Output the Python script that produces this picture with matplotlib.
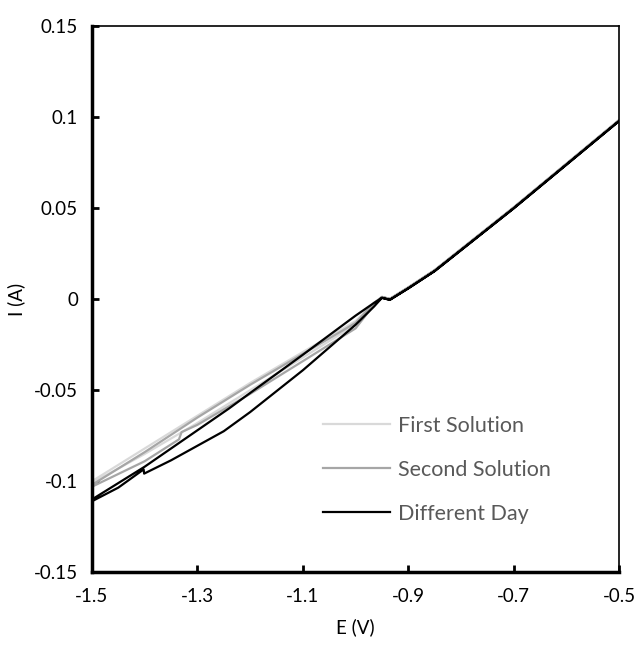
import matplotlib
matplotlib.use("Agg")
import matplotlib.pyplot as plt
import numpy as np

plt.rcParams['font.family'] = ['Lato', 'DejaVu Sans']

# Shared anodic part (-0.95 .. -0.5 V)
e_right = [-0.95, -0.935, -0.90, -0.85, -0.80, -0.70, -0.60, -0.50]
i_right = [0.0008, -0.0003, 0.006, 0.0155, 0.027, 0.050, 0.074, 0.098]

# First Solution branches (E, I)
e_first_up = [-1.50, -1.40, -1.30, -1.20, -1.10, -1.00, -0.965]
i_first_up = [-0.100, -0.082, -0.064, -0.046, -0.029, -0.012, -0.002]
e_first_lo = [-1.50, -1.40, -1.30, -1.20, -1.10, -1.00, -0.965]
i_first_lo = [-0.101, -0.085, -0.068, -0.050, -0.032, -0.014, -0.003]

# Second Solution branches
e_second_up = [-1.50, -1.40, -1.30, -1.20, -1.10, -1.00, -0.965]
i_second_up = [-0.102, -0.084, -0.065, -0.047, -0.030, -0.013, -0.002]
e_second_lo = [-1.50, -1.40, -1.335, -1.33, -1.30, -1.20, -1.10, -1.00, -0.965]
i_second_lo = [-0.103, -0.089, -0.077, -0.073, -0.069, -0.052, -0.034, -0.016, -0.003]

# Different Day branches
e_day_up = [-1.50, -1.45, -1.40, -1.30, -1.24, -1.20, -1.10, -1.00, -0.965]
i_day_up = [-0.110, -0.101, -0.092, -0.072, -0.060, -0.0515, -0.0305, -0.009, -0.002]
e_day_lo = [-1.50, -1.45, -1.402, -1.401, -1.35, -1.30, -1.25, -1.20, -1.15, -1.10, -1.05, -1.00, -0.965]
i_day_lo = [-0.111, -0.1035, -0.0935, -0.0958, -0.0885, -0.0805, -0.0725, -0.0620, -0.0505, -0.0390, -0.0265, -0.0140, -0.004]

x_ticks = [-1.5, -1.3, -1.1, -0.9, -0.7, -0.5]
y_ticks = [-0.15, -0.1, -0.05, 0, 0.05, 0.1, 0.15]
x_tick_labels = ["-1.5", "-1.3", "-1.1", "-0.9", "-0.7", "-0.5"]
y_tick_labels = ["-0.15", "-0.1", "-0.05", "0", "0.05", "0.1", "0.15"]

series = [
    ("First Solution", e_first_up, i_first_up, e_first_lo, i_first_lo, 0.0, "#d9d9d9"),
    ("Second Solution", e_second_up, i_second_up, e_second_lo, i_second_lo, 0.0005, "#a6a6a6"),
    ("Different Day", e_day_up, i_day_up, e_day_lo, i_day_lo, 0.0, "#000000"),
]

fig = plt.figure(figsize=(6.43, 6.57), dpi=100)
ax = fig.add_axes([0.143, 0.129, 0.820, 0.831])

for name, eu, iu, el, il, off, col in series:
    e = list(reversed(e_right)) + list(reversed(eu)) + el + e_right
    i = [v + off for v in reversed(i_right)] + list(reversed(iu)) + il + [v + off for v in i_right]
    ax.plot(e, i, color=col, lw=1.6, label=name, solid_joinstyle='round')

ax.set_xlim(-1.5, -0.5)
ax.set_ylim(-0.15, 0.15)
ax.set_xticks(x_ticks)
ax.set_xticklabels(x_tick_labels)
ax.set_yticks(y_ticks)
ax.set_yticklabels(y_tick_labels)
ax.tick_params(axis='both', direction='in', length=5, width=2, labelsize=13.5,
               labelcolor='black')
ax.tick_params(axis='y', pad=10)
ax.tick_params(axis='x', pad=11)

ax.spines['left'].set_linewidth(2.5)
ax.spines['bottom'].set_linewidth(2.5)
ax.spines['top'].set_linewidth(1.2)
ax.spines['right'].set_linewidth(1.2)
for s in ax.spines.values():
    s.set_color('black')

ax.set_xlabel("E (V)", fontsize=13.5, labelpad=10)
ax.set_ylabel("I (A)", fontsize=13.5, labelpad=6)

leg = ax.legend(loc='upper left', bbox_to_anchor=(0.438, 0.287), frameon=False,
                fontsize=15.5, handlelength=3.1, labelspacing=1.12, handletextpad=0.4,
                borderaxespad=0, borderpad=0)
for t in leg.get_texts():
    t.set_color('#595959')

fig.savefig("out.png", dpi=100)
